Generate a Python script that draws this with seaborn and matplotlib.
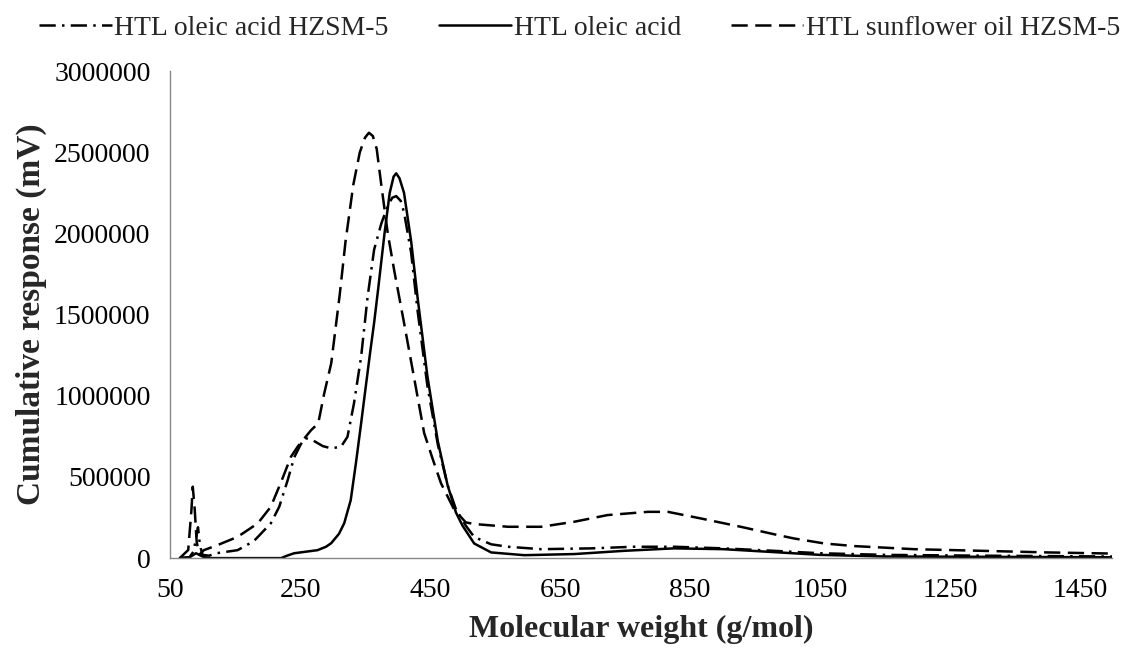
import numpy as np
import pandas as pd
import matplotlib
matplotlib.use("Agg")
import matplotlib.pyplot as plt
import seaborn as sns
from matplotlib.lines import Line2D

# ---- data ----
mw_oa_hz = [65, 80, 86, 90, 93, 96, 100, 110, 123, 154, 179, 205, 218, 231, 241, 251, 258, 270,
            285, 298, 313, 323, 333, 344, 354, 364, 375, 385, 392, 398, 405, 410, 421, 431, 446,
            462, 477, 490, 505, 518, 544, 570, 621, 698, 764, 826, 902, 979, 1050, 1150, 1300,
            1500]
resp_oa_hz = [0, 5e3, 40e3, 120e3, 190e3, 80e3, 20e3, 15e3, 31e3, 49e3, 105e3, 214e3, 316e3,
              480e3, 620e3, 700e3, 740e3, 725e3, 690e3, 676e3, 686e3, 747e3, 953e3, 1.24e6,
              1.61e6, 1.9e6, 2.06e6, 2.17e6, 2.22e6, 2.23e6, 2.2e6, 2.13e6, 1.88e6, 1.52e6,
              1.06e6, 0.70e6, 0.45e6, 0.30e6, 0.20e6, 0.13e6, 85e3, 70e3, 55e3, 60e3, 70e3,
              70e3, 60e3, 45e3, 30e3, 20e3, 15e3, 10e3]

mw_oa = [65, 80, 90, 100, 110, 221, 230, 241, 260, 277, 290, 298, 310, 318, 328, 336, 344, 350,
         357, 364, 370, 380, 388, 394, 398, 403, 410, 421, 431, 446, 462, 477, 490, 500, 518,
         544, 595, 672, 749, 825, 902, 979, 1050, 1150, 1300, 1500]
resp_oa = [0, 5e3, 30e3, 10e3, 0, 0, 15e3, 30e3, 40e3, 49e3, 70e3, 92e3, 150e3, 215e3, 357e3,
           585e3, 830e3, 1.02e6, 1.24e6, 1.45e6, 1.65e6, 2.0e6, 2.25e6, 2.35e6, 2.37e6, 2.34e6,
           2.25e6, 1.95e6, 1.6e6, 1.12e6, 0.72e6, 0.45e6, 0.28e6, 0.20e6, 90e3, 35e3, 18e3,
           25e3, 45e3, 60e3, 55e3, 37e3, 20e3, 10e3, 8e3, 5e3]

mw_sf_hz = [65, 78, 83, 85, 88, 91, 95, 102, 123, 154, 185, 205, 221, 236, 247, 267, 278, 287,
            298, 311, 320, 332, 342, 350, 356, 362, 368, 375, 385, 395, 410, 426, 441, 455, 467,
            487, 505, 518, 570, 621, 672, 723, 785, 816, 867, 928, 985, 1010, 1057, 1103, 1195,
            1298, 1400, 1500]
resp_sf_hz = [0, 50e3, 300e3, 440e3, 300e3, 100e3, 20e3, 49e3, 80e3, 131e3, 214e3, 316e3,
              470e3, 624e3, 690e3, 788e3, 830e3, 1.01e6, 1.2e6, 1.62e6, 1.95e6, 2.3e6, 2.5e6,
              2.59e6, 2.62e6, 2.6e6, 2.52e6, 2.3e6, 2.0e6, 1.77e6, 1.45e6, 1.1e6, 0.77e6, 0.6e6,
              0.46e6, 0.30e6, 0.22e6, 0.21e6, 193e3, 193e3, 224e3, 265e3, 285e3, 285e3, 244e3,
              193e3, 142e3, 121e3, 90e3, 74e3, 55e3, 45e3, 35e3, 28e3]

labels = ["HTL oleic acid HZSM-5", "HTL oleic acid", "HTL sunflower oil HZSM-5"]
x_ticks = [50, 250, 450, 650, 850, 1050, 1250, 1450]
y_ticks = [0, 500000, 1000000, 1500000, 2000000, 2500000, 3000000]

df = pd.concat([
    pd.DataFrame({"mw": mw_oa_hz, "resp": resp_oa_hz, "series": labels[0]}),
    pd.DataFrame({"mw": mw_oa, "resp": resp_oa, "series": labels[1]}),
    pd.DataFrame({"mw": mw_sf_hz, "resp": resp_sf_hz, "series": labels[2]}),
], ignore_index=True)

sns.set_theme(style="white")
plt.rcParams["font.family"] = ["Liberation Serif", "DejaVu Serif"]

fig = plt.figure(figsize=(11.26, 6.52), dpi=100)
ax = fig.add_axes([0.151, 0.144, 0.837, 0.747])

dashes = {labels[0]: (6.5, 2.5, 1, 2.5), labels[1]: "", labels[2]: (6.5, 3)}
sns.lineplot(data=df, x="mw", y="resp", hue="series", style="series",
             palette={l: "black" for l in labels}, dashes=dashes,
             estimator=None, sort=True, linewidth=1.8, ax=ax, legend=False)

ax.set_xlim(50, 1500)
ax.set_ylim(0, 3000000)
ax.set_xticks(x_ticks)
ax.set_yticks(y_ticks)
ax.set_xticklabels([str(v) for v in x_ticks], fontsize=20)
ax.set_yticklabels([str(v) for v in y_ticks], fontsize=20)
ax.set_xlabel("Molecular weight (g/mol)", fontsize=23, fontweight="bold", labelpad=9)
ax.set_ylabel("Cumulative response (mV)", fontsize=24, fontweight="bold", labelpad=5)

for s in ["top", "right"]:
    ax.spines[s].set_visible(False)
for s in ["left", "bottom"]:
    ax.spines[s].set_color("#888888")
    ax.spines[s].set_linewidth(1.0)
ax.tick_params(axis="both", direction="out", length=6, width=1, color="#888888",
               labelcolor="black", pad=8)
ax.grid(False)

handles = [Line2D([0], [0], color="black", lw=1.8, linestyle=(0, dashes[labels[0]])),
           Line2D([0], [0], color="black", lw=1.8, linestyle="-"),
           Line2D([0], [0], color="black", lw=1.8, linestyle=(0, dashes[labels[2]]))]
fig.legend(handles, labels, loc="upper center", bbox_to_anchor=(0.515, 1.015), ncol=3,
           frameon=False, fontsize=20, handlelength=2.6, handletextpad=0.1,
           columnspacing=1.8)

fig.savefig("out.png", dpi=100)
